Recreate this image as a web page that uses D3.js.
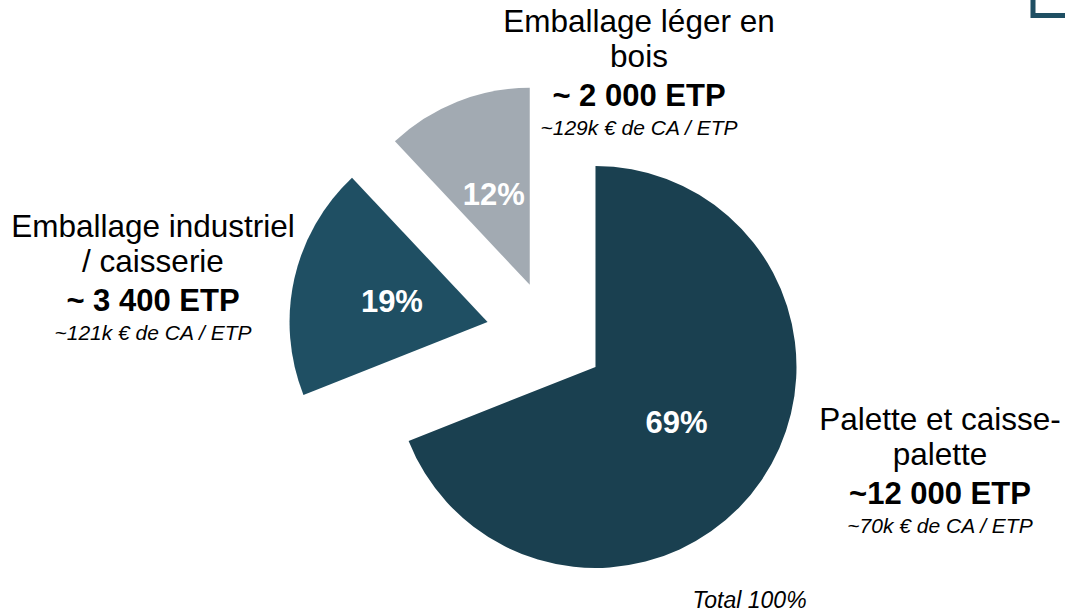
<!DOCTYPE html>
<html>
<head>
<meta charset="utf-8">
<script src="https://cdn.jsdelivr.net/npm/d3@7"></script>
<style>
  html, body { margin: 0; padding: 0; background: #ffffff; }
  svg { display: block; font-family: "Liberation Sans", Arial, sans-serif; }
</style>
</head>
<body>
<svg id="chart" width="1065" height="613"></svg>
<script>
// ---- data ----
const categories = ["Palette et caisse-palette", "Emballage industriel / caisserie", "Emballage léger en bois"];
const nameLines = [["Palette et caisse-", "palette"], ["Emballage industriel", "/ caisserie"], ["Emballage léger en", "bois"]];
const shares = [69, 19, 12];
const etpLabels = ["~12 000 ETP", "~ 3 400 ETP", "~ 2 000 ETP"];
const caLabels = ["~70k € de CA / ETP", "~121k € de CA / ETP", "~129k € de CA / ETP"];
const totalLabel = "Total 100%";

// ---- layout / style ----
const W = 1065, H = 613;
const center = [550, 336];
const radii = [201, 198, 197];
const explode = [55, 64, 55];
const colors = ["#1a4050", "#1f4f63", "#a2aab2"];
const labelPos = [[940, 429.5], [153, 236.5], [639, 31.5]];

const svg = d3.select("#chart");

const pie = d3.pie().sort(null).startAngle(0).endAngle(2 * Math.PI).value(d => d);
const arcs = pie(shares);
const labelArc = d3.arc().innerRadius(98).outerRadius(98);

const g = svg.append("g").attr("transform", `translate(${center[0]},${center[1]})`);

const slices = g.selectAll("g.slice").data(arcs).join("g")
  .attr("class", "slice")
  .attr("transform", (d, i) => {
    const a = (d.startAngle + d.endAngle) / 2;
    return `translate(${Math.sin(a) * explode[i]},${-Math.cos(a) * explode[i]})`;
  });

slices.append("path")
  .attr("d", (d, i) => d3.arc().innerRadius(0).outerRadius(radii[i])(d))
  .attr("fill", (d, i) => colors[i]);

slices.append("text")
  .attr("transform", d => `translate(${labelArc.centroid(d)})`)
  .attr("text-anchor", "middle")
  .attr("dy", "0.36em")
  .attr("fill", "#ffffff")
  .attr("font-weight", "bold")
  .attr("font-size", 31)
  .text(d => d.data + "%");

// ---- category labels ----
categories.forEach((c, i) => {
  const t = svg.append("text")
    .attr("x", labelPos[i][0])
    .attr("y", labelPos[i][1])
    .attr("text-anchor", "middle")
    .attr("fill", "#000000");
  nameLines[i].forEach((ln, k) => {
    t.append("tspan").attr("x", labelPos[i][0]).attr("dy", k === 0 ? 0 : 35)
      .attr("font-size", 31.5).text(ln);
  });
  t.append("tspan").attr("x", labelPos[i][0]).attr("dy", 39)
    .attr("font-size", 31).attr("font-weight", "bold").text(etpLabels[i]);
  t.append("tspan").attr("x", labelPos[i][0]).attr("dy", 29)
    .attr("font-size", 21).attr("font-style", "italic").text(caLabels[i]);
});

svg.append("text")
  .attr("x", 749.5).attr("y", 608)
  .attr("text-anchor", "middle")
  .attr("font-size", 23)
  .attr("font-style", "italic")
  .attr("fill", "#000000")
  .text(totalLabel);

// ---- corner mark ----
svg.append("path")
  .attr("d", "M1033,0 V15.5 H1065")
  .attr("fill", "none")
  .attr("stroke", "#1f4f63")
  .attr("stroke-width", 5);
</script>
</body>
</html>
